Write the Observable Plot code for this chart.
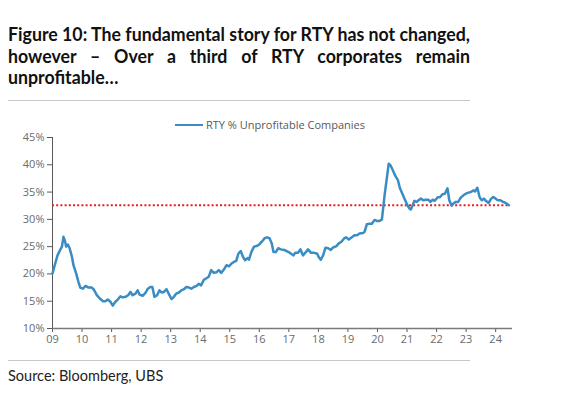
<!DOCTYPE html>
<html><head><meta charset="utf-8">
<script src="https://cdn.jsdelivr.net/npm/d3@7"></script>
<script src="https://cdn.jsdelivr.net/npm/@observablehq/plot@0.6"></script>
<style>
body{margin:0;background:#fff;width:579px;height:398px;overflow:hidden;position:relative;font-family:Lato,"Open Sans",sans-serif}
#title{position:absolute;left:8px;top:24px;font-weight:700;font-size:18.5px;line-height:21.5px;color:#111;transform-origin:0 0;width:462px}
#title div{white-space:nowrap}
#title .j{text-align:justify;text-align-last:justify}
.rule{position:absolute;left:8px;width:462px;height:0;border-top:1px solid #c8c8c8}
#legend{position:absolute;z-index:2;top:117px;left:175px;font-family:"Open Sans",sans-serif;font-size:11px;color:#595959;display:flex;align-items:center;white-space:nowrap}
#legend .sw{display:inline-block;width:28px;height:0;border-top:2.5px solid #3a8cc4;margin-right:3px}
#plot{position:absolute;left:0;top:105px;z-index:1}
#source{position:absolute;left:8px;top:367px;font-size:14.5px;color:#222;white-space:nowrap}
</style></head><body>
<div id="title">
<div class="j" id="t1">Figure 10: The fundamental story for RTY has not changed,</div>
<div class="j">however – Over a third of RTY corporates remain</div>
<div>unprofitable…</div>
</div>
<div class="rule" style="top:100px"></div>
<div id="legend"><span class="sw"></span>RTY % Unprofitable Companies</div>
<div id="plot"></div>
<div class="rule" style="top:360px"></div>
<div id="source">Source: Bloomberg, UBS</div>
<script>
const seriesName = "RTY % Unprofitable Companies";
const dates = [
2009.0,2009.09,2009.17,2009.26,2009.32,2009.37,2009.43,2009.46,2009.52,2009.58,2009.66,2009.71,2009.80,2009.88,2009.94,
2010.03,2010.12,2010.22,2010.33,2010.39,2010.50,2010.60,2010.71,2010.79,2010.87,2010.96,
2011.04,2011.13,2011.21,2011.30,2011.38,2011.47,2011.56,2011.64,2011.71,2011.81,2011.88,2011.95,
2012.05,2012.14,2012.23,2012.31,2012.38,2012.45,2012.54,2012.62,2012.69,2012.77,2012.86,2012.94,
2013.03,2013.11,2013.19,2013.28,2013.36,2013.45,2013.53,2013.62,2013.70,2013.79,2013.88,2013.95,
2014.03,2014.12,2014.21,2014.29,2014.37,2014.46,2014.55,2014.63,2014.71,2014.80,2014.89,2014.97,
2015.06,2015.14,2015.22,2015.29,2015.37,2015.45,2015.52,2015.60,2015.65,2015.73,2015.82,2015.91,
2016.0,2016.10,2016.19,2016.27,2016.35,2016.42,2016.48,2016.56,2016.64,2016.73,2016.84,2016.92,
2017.03,2017.15,2017.22,2017.31,2017.39,2017.48,2017.56,2017.65,2017.74,2017.84,2017.96,
2018.01,2018.08,2018.16,2018.24,2018.33,2018.42,2018.49,2018.61,2018.69,2018.78,2018.87,2018.94,
2019.03,2019.13,2019.22,2019.31,2019.39,2019.51,2019.56,2019.64,2019.73,2019.81,2019.90,2019.99,
2020.07,2020.15,2020.24,2020.33,2020.38,2020.44,2020.52,2020.60,2020.69,2020.76,2020.85,2020.93,
2021.02,2021.08,2021.13,2021.19,2021.25,2021.33,2021.39,2021.47,2021.55,2021.64,2021.72,2021.79,2021.87,2021.94,
2022.03,2022.12,2022.20,2022.28,2022.37,2022.43,2022.51,2022.57,2022.65,2022.73,2022.82,2022.91,2022.99,
2023.08,2023.16,2023.24,2023.30,2023.38,2023.46,2023.53,2023.60,2023.67,2023.76,2023.85,2023.92,
2024.0,2024.07,2024.16,2024.25,2024.34,2024.45
];
const values = [
20.1,21.9,23.4,24.4,25.0,26.8,25.9,25.0,25.4,24.7,23.1,21.6,20.1,18.5,17.5,
17.3,17.8,17.5,17.5,17.2,16.1,15.5,15.0,15.0,15.3,14.9,
14.2,14.9,15.3,15.9,15.7,15.8,16.1,16.7,16.1,16.4,17.0,16.2,
16.0,16.5,17.3,17.6,17.6,15.8,16.1,17.0,16.6,16.7,17.2,16.3,
15.4,15.8,16.4,16.6,17.0,17.2,17.6,17.5,17.3,17.6,17.8,18.2,
17.9,18.9,19.2,19.5,20.7,20.2,20.3,20.7,20.2,20.8,21.6,21.4,
21.9,22.2,22.4,23.7,24.2,23.1,22.5,22.9,22.6,24.0,25.0,25.1,
25.4,26.0,26.6,26.7,26.5,25.6,24.0,24.0,24.7,24.5,24.4,24.2,
23.9,23.4,23.9,23.9,24.5,23.4,23.9,24.5,23.9,23.9,23.7,
23.1,22.6,23.4,24.8,24.7,24.4,24.8,25.1,25.6,25.9,26.5,26.7,
26.3,26.7,27.1,27.1,27.4,27.5,27.7,29.1,29.2,29.2,29.9,29.7,
29.7,30.0,34.4,38.1,40.2,39.9,39.0,38.0,37.2,35.7,34.6,33.6,
32.5,32.0,31.8,32.6,33.4,33.2,33.5,33.8,33.5,33.6,33.6,33.2,33.6,33.4,
34.0,34.1,34.6,34.7,35.7,33.5,32.5,32.9,33.2,33.2,34.0,34.4,34.7,
34.9,35.0,35.3,35.1,35.8,34.0,33.5,33.8,33.4,33.0,33.8,34.1,
33.8,33.5,33.5,33.2,33.0,32.6
];
const referenceLevel = 32.6;
const yTicks = [10,15,20,25,30,35,40,45];
const xTicks = [2009,2010,2011,2012,2013,2014,2015,2016,2017,2018,2019,2020,2021,2022,2023,2024];
const xLabels = ["09","10","11","12","13","14","15","16","17","18","19","20","21","22","23","24"];

const data = dates.map((d,i)=>({date:d, value:values[i]}));
const xEnd = 2024.57;
const lastDate = dates[dates.length-1];

const chart = Plot.plot({
  width: 579, height: 250,
  marginLeft: 52, marginRight: 67, marginTop: 32, marginBottom: 27,
  style: {fontFamily: "'Open Sans', sans-serif", fontSize: "11px", color: "#6b6b6b", background: "transparent"},
  x: {domain: [2009, xEnd], axis: null},
  y: {domain: [10, 45], axis: null},
  marks: [
    Plot.axisY({ticks: yTicks, tickFormat: d => d + "%", tickSize: 5, tickPadding: 3, stroke: "#595959", color: "#6b6b6b", label: null}),
    Plot.axisX({ticks: xTicks, tickFormat: d => xLabels[xTicks.indexOf(d)], tickSize: 4, tickPadding: 3, stroke: "#595959", color: "#6b6b6b", label: null}),
    Plot.ruleX([2009], {y1: 10, y2: 45, stroke: "#595959"}),
    Plot.ruleY([10], {x1: 2009, x2: xEnd, stroke: "#7a7a7a", strokeWidth: 1.5}),
    Plot.ruleY([referenceLevel], {x1: 2009, x2: lastDate, stroke: "#e41e1e", strokeWidth: 2, strokeDasharray: "2,2.2"}),
    Plot.line(data, {x: "date", y: "value", stroke: "#3a8cc4", strokeWidth: 2.5, curve: "linear"})
  ]
});
document.getElementById("plot").appendChild(chart);

// fit title line 1 to the 462px column
const t = document.getElementById("title");
const probe = document.createElement("span");
probe.style.cssText = "position:absolute;visibility:hidden;white-space:nowrap;font:700 18.5px Lato, 'Open Sans', sans-serif";
probe.textContent = document.getElementById("t1").textContent;
document.body.appendChild(probe);
const w = probe.getBoundingClientRect().width;
probe.remove();
if (w > 462) {
  const s = 462 / w;
  t.style.width = (462 / s) + "px";
  t.style.transform = "scaleX(" + s + ")";
}
</script>
</body></html>
